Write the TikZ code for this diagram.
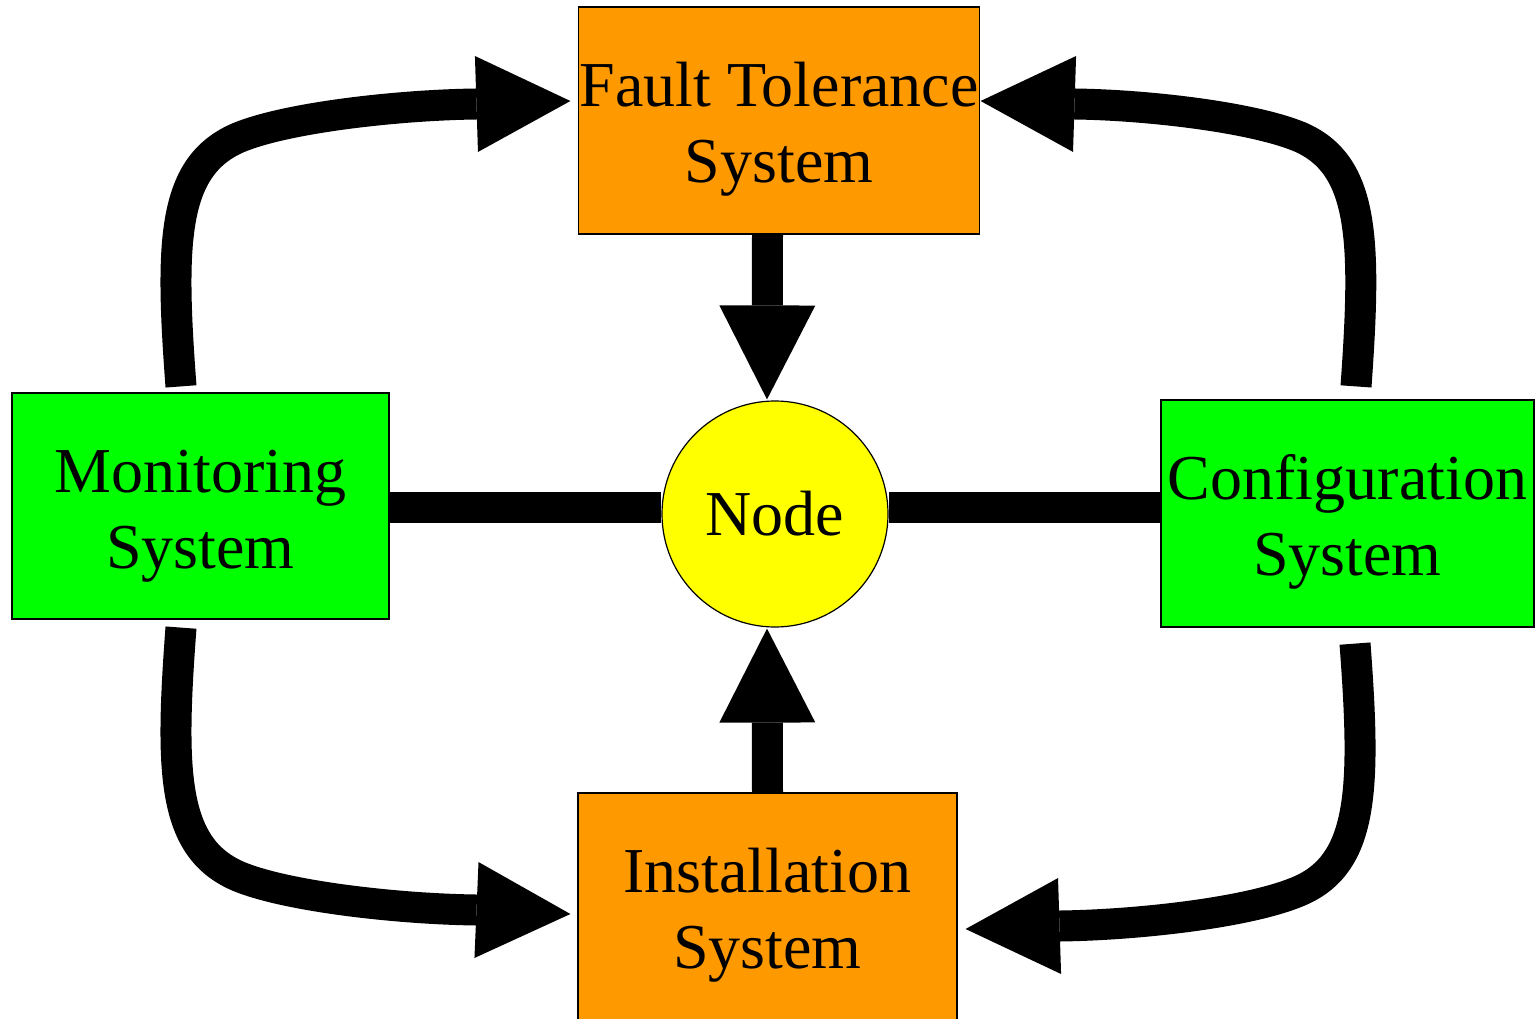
\documentclass[tikz,border=0pt]{standalone}
\usepackage{fontspec}
\setmainfont{Liberation Serif}
\usetikzlibrary{arrows.meta,calc,backgrounds}
\definecolor{orng}{HTML}{FF9900}
\definecolor{grn}{HTML}{00FF00}
\definecolor{ylw}{HTML}{FFFF00}
\begin{document}
\begin{tikzpicture}[x=1pt,y=-1pt,
  box/.style={draw=black,line width=1.2pt,rectangle,inner sep=0pt,align=center,
    font=\fontsize{64pt}{76pt}\selectfont},
  orangebox/.style={box,fill=orng,minimum height=227pt},
  greenbox/.style={box,fill=grn,minimum height=226pt},
  nodecircle/.style={draw=black,line width=1.2pt,circle,fill=ylw,inner sep=0pt,
    minimum size=226pt,font=\fontsize{64pt}{76pt}\selectfont},
  conn/.style={draw=black,line width=31pt},
  >={Triangle[length=94pt,width=96pt,line width=0pt]}]
\useasboundingbox (0,0) rectangle (1535,1019);

\node[orangebox,minimum width=401pt] (ft) at (779,120.5) {\rule{0pt}{62pt}Fault Tolerance\\System};
\node[greenbox,minimum width=377pt] (mon) at (200.5,506) {\rule{0pt}{62pt}Monitoring\\System};
\node[nodecircle] (nd) at (775,514) {Node};
\node[greenbox,minimum width=373pt,minimum height=227pt] (cfg) at (1347.5,513.5) {\rule{0pt}{62pt}Configuration\\System};
\node[orangebox,minimum width=379pt] (ins) at (767.5,906.5) {\rule{0pt}{62pt}Installation\\System};

\begin{scope}[on background layer]
% straight links
\draw[conn] ($(mon.east)+(0,1)$) -- ($(mon.east -| nd.west)+(0,1)$);
\draw[conn] ($(nd.east |- mon.east)+(0,1)$) -- ($(cfg.west |- mon.east)+(0,1)$);
% vertical arrows
\draw[conn,->] ($(ft.south)+(-11.5,0)$) -- ($(nd.north)+(-8,-1)$);
\draw[conn,->] (ins.north) -- ($(nd.south)+(-8,1)$);
% curved arrows
\draw[conn,->] ($(mon.north)+(-19.5,-6)$) .. controls (170,240) and (172,165) .. (240,137)
   .. controls (290,117) and (400,105) .. (476,104) -- ($(ft.west)+(-7.5,-19.5)$);
\draw[conn,->] ($(cfg.north)+(8.5,-13)$) .. controls (1366.5,240) and (1364.5,165) .. (1300,137)
   .. controls (1252,117) and (1147,105) .. (1075,104) -- ($(ft.east)+(0.5,-19.5)$);
\draw[conn,->] ($(mon.south)+(-19.5,8)$) .. controls (170,774) and (172,849) .. (240,877)
   .. controls (290,897) and (400,909) .. (476,910) -- ($(ins.west)+(-7,7.5)$);
\draw[conn,->] ($(cfg.south)+(7.5,16)$) .. controls (1366,790) and (1364,865) .. (1297,892)
   .. controls (1246,913) and (1136,925) .. (1060,926) -- ($(ins.east)+(8,22.5)$);
\end{scope}
\end{tikzpicture}
\end{document}
